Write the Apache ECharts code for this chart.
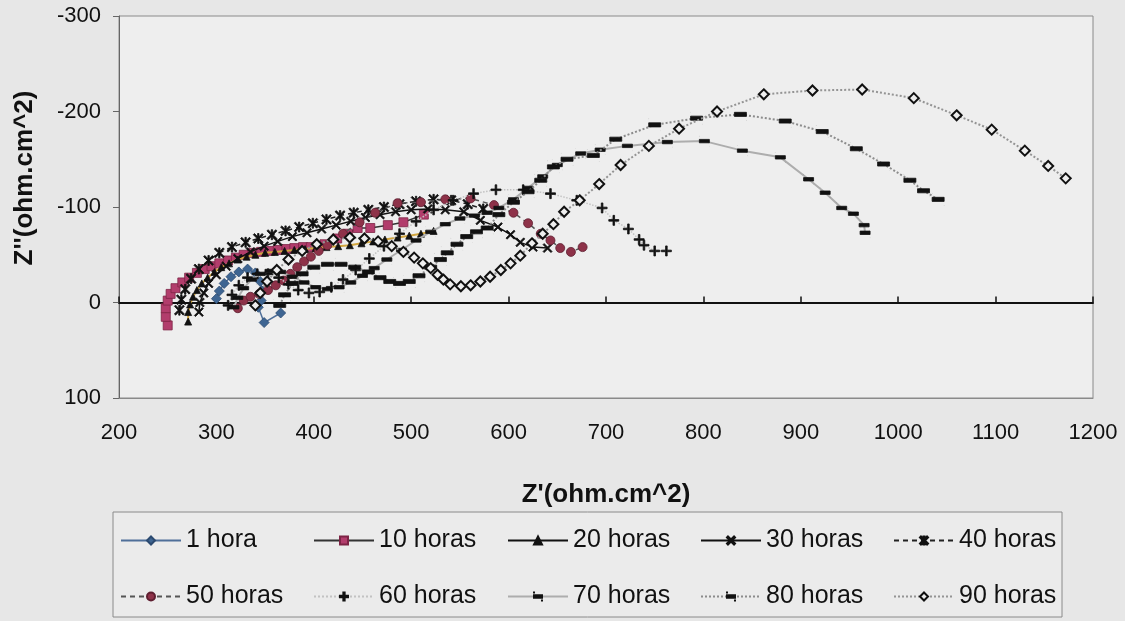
<!DOCTYPE html>
<html>
<head>
<meta charset="utf-8">
<script src="https://cdn.jsdelivr.net/npm/echarts/dist/echarts.min.js"></script>
<style>
  html, body { margin: 0; padding: 0; background: #e7e7e7; }
  #chart { width: 1125px; height: 621px; }
</style>
</head>
<body>
<div id="chart"></div>
<script>
// Impedance spectra (Nyquist): Z' vs Z'' in ohm.cm^2, one curve per immersion time
const seriesNames = ['1 hora', '10 horas', '20 horas', '30 horas', '40 horas',
                     '50 horas', '60 horas', '70 horas', '80 horas', '90 horas'];

const xRange = [200, 1200];
const yRange = [-300, 100];
const tickStep = 100;

const h1 = [[300,-4],[303,-12],[308,-20],[315,-27],[323,-32],[332,-35],[340,-31],[345,-22],[347,-12],[346,-2],[343,5],[349,21],[366,11]];

const h10 = [[250,24],[248,15],[248,6],[250,-2],[253,-9],[258,-15],[265,-21],[272,-26],[280,-31],[288,-35],[295,-38],[303,-41],[312,-44],[320,-47],[328,-50],[337,-52],[346,-53],[355,-54],[363,-55],[372,-56],[380,-57],[389,-58],[397,-58],[404,-59],[411,-61],[424,-67],[435,-72],[445,-78],[458,-78],[476,-81],[492,-84],[513,-92]];

const h20 = [[271,20],[271,10],[273,2],[276,-6],[280,-13],[285,-20],[291,-26],[298,-32],[305,-37],[313,-41],[322,-45],[331,-48],[340,-50],[350,-52],[360,-53],[370,-54],[380,-55],[391,-56],[402,-57],[413,-58],[425,-59],[437,-60],[449,-62],[461,-64],[473,-66],[486,-68],[498,-70],[510,-72],[523,-75]];

const h30 = [[282,10],[283,0],[287,-10],[292,-20],[300,-29],[310,-38],[322,-46],[335,-53],[349,-59],[363,-64],[378,-69],[393,-73],[408,-77],[423,-81],[438,-85],[453,-89],[468,-92],[484,-95],[500,-97],[517,-98],[535,-97],[554,-95],[571,-86],[589,-79],[602,-71],[612,-63],[625,-58],[640,-57]];

const h40 = [[262,8],[264,-3],[268,-14],[274,-25],[282,-35],[292,-44],[303,-52],[316,-58],[330,-63],[343,-67],[357,-71],[371,-75],[385,-79],[399,-83],[413,-87],[427,-91],[441,-94],[456,-97],[472,-100],[488,-103],[505,-106],[523,-108],[541,-107],[558,-103],[574,-98]];

const h50 = [[322,6],[328,-2],[335,-6],[344,-9],[353,-13],[361,-18],[369,-23],[376,-30],[383,-37],[390,-43],[397,-48],[405,-54],[414,-60],[430,-72],[447,-84],[463,-94],[486,-104],[510,-105],[535,-108],[561,-109],[585,-102],[605,-94],[620,-83],[633,-72],[643,-65],[653,-57],[664,-53],[676,-58]];

const h60 = [[312,3],[316,-8],[323,-18],[332,-26],[342,-30],[353,-30],[364,-26],[374,-19],[384,-13],[395,-10],[406,-11],[418,-16],[430,-24],[443,-34],[457,-46],[472,-59],[488,-72],[505,-85],[523,-97],[543,-107],[564,-114],[587,-118],[615,-118],[643,-114],[670,-107],[696,-99],[708,-86],[723,-77],[734,-66],[739,-60],[750,-54],[762,-54]];

const h70 = [[318,5],[322,-5],[328,-15],[336,-24],[345,-30],[355,-33],[366,-32],[378,-27],[390,-21],[402,-16],[414,-14],[426,-16],[438,-21],[450,-28],[462,-36],[475,-45],[490,-55],[505,-65],[520,-74],[535,-82],[550,-88],[565,-91],[578,-94],[590,-99],[605,-108],[620,-120],[635,-132],[650,-144],[674,-156],[694,-160],[722,-164],[763,-168],[801,-169],[840,-159],[879,-152],[908,-129],[925,-115],[942,-99],[954,-93],[965,-81],[966,-73]];

const h80 = [[365,3],[370,-8],[378,-20],[388,-30],[400,-37],[414,-40],[428,-40],[442,-37],[456,-32],[468,-26],[478,-22],[488,-20],[498,-22],[508,-28],[520,-37],[530,-45],[537,-52],[547,-61],[557,-69],[567,-74],[578,-78],[590,-92],[605,-105],[620,-116],[633,-128],[646,-142],[660,-150],[687,-154],[710,-171],[750,-186],[793,-193],[838,-197],[884,-190],[922,-179],[957,-161],[985,-145],[1012,-128],[1026,-117],[1041,-108]];

const h90 = [[340,3],[345,-10],[352,-22],[362,-34],[374,-45],[388,-54],[403,-61],[420,-66],[437,-68],[452,-67],[466,-64],[480,-59],[492,-53],[503,-47],[512,-41],[520,-36],[527,-29],[533,-24],[540,-19],[551,-17],[561,-18],[571,-22],[581,-27],[592,-34],[602,-41],[612,-49],[624,-62],[635,-72],[646,-82],[657,-95],[673,-107],[693,-124],[715,-144],[744,-164],[775,-182],[814,-200],[862,-218],[912,-222],[963,-223],[1016,-214],[1060,-196],[1096,-181],[1130,-159],[1154,-143],[1172,-130]];

const seriesData = [h1, h10, h20, h30, h40, h50, h60, h70, h80, h90];

// marker shapes (drawn inside a 10x10 box)
const X_MARK = 'path://M0,1.2L1.2,0L5,3.8L8.8,0L10,1.2L6.2,5L10,8.8L8.8,10L5,6.2L1.2,10L0,8.8L3.8,5Z';
const STAR_MARK = X_MARK + 'M4.3,0H5.7V10H4.3Z';
const PLUS_MARK = 'path://M4.2,0H5.8V4.2H10V5.8H5.8V10H4.2V5.8H0V4.2H4.2Z';
// short horizontal bar; two hair-thin corners keep the box square so it is not stretched
const DASH_MARK = 'path://M0,3.3H10V6.7H0Z M0,0H0.02V0.02H0Z M9.98,9.98H10V10H9.98Z';

const styles = [
  { symbol: 'diamond', size: 10, color: '#3e6592', border: '#2c4a70', line: '#4f6f99', width: 1.5, type: 'solid' },
  { symbol: 'rect', size: 9, color: '#b23d6c', border: '#7d2445', line: '#333', width: 1.5, type: 'solid' },
  { symbol: 'triangle', size: 7, color: '#111', border: '#111', line: '#d2a640', width: 2, type: 'solid', legendLine: '#111' },
  { symbol: X_MARK, size: 9, color: '#111', border: '#111', line: '#111', width: 1.5, type: 'solid' },
  { symbol: STAR_MARK, size: 10, color: '#111', border: '#111', line: '#222', width: 1.5, type: [5, 4] },
  { symbol: 'circle', size: 9, color: '#8e3249', border: '#5e1e30', line: '#555', width: 1.5, type: [5, 4] },
  { symbol: PLUS_MARK, size: 10, color: '#111', border: '#111', line: '#c2c2c2', width: 1.5, type: 'dotted' },
  { symbol: DASH_MARK, size: 10, color: '#111', border: '#111', line: '#adadad', width: 2, type: 'solid' },
  { symbol: DASH_MARK, size: 12, color: '#111', border: '#111', line: '#8c8c8c', width: 2, type: 'dotted' },
  { symbol: 'diamond', size: 10, color: '#eeeeee', border: '#111', line: '#949494', width: 2, type: 'dotted', borderWidth: 2 }
];

const series = seriesNames.map((name, i) => {
  const s = styles[i];
  return {
    name: name,
    type: 'line',
    xAxisIndex: 0,
    yAxisIndex: 0,
    data: seriesData[i],
    symbol: s.symbol,
    symbolSize: s.size,
    showSymbol: true,
    smooth: false,
    lineStyle: { color: s.line, width: s.width, type: s.type },
    itemStyle: { color: s.color, borderColor: s.border, borderWidth: s.borderWidth || 0.8, opacity: 1 },
    emphasis: { disabled: true },
    z: 2 + i * 0.01
  };
});

const FONT = '"Liberation Sans", Arial, sans-serif';

// five legend columns, two rows each
const legendCols = [115, 308, 502, 695, 888];
const legends = legendCols.map((left, c) => ({
  orient: 'vertical',
  left: left,
  top: 523,
  itemWidth: 60,
  itemHeight: 10,
  itemGap: 31,
  selectedMode: false,
  textStyle: { fontFamily: FONT, fontSize: 25, color: '#111', lineHeight: 24 },
  data: [seriesNames[c], seriesNames[c + 5]].map((n) => {
    const idx = seriesNames.indexOf(n);
    const st = styles[idx];
    const item = { name: n };
    if (st.legendLine) item.lineStyle = { color: st.legendLine };
    return item;
  })
}));

const plainNumber = (v) => String(v);

const chart = echarts.init(document.getElementById('chart'), null, { renderer: 'canvas' });
chart.setOption({
  animation: false,
  backgroundColor: '#e7e7e7',
  grid: {
    left: 119, right: 32, top: 16, bottom: 223,
    show: true, backgroundColor: '#eeeeee', borderColor: '#8a8a8a', borderWidth: 1,
    containLabel: false, outerBoundsMode: 'none'
  },
  legend: legends,
  graphic: [{
    type: 'rect',
    shape: { x: 113, y: 512, width: 949, height: 105 },
    style: { fill: '#ebebeb', stroke: '#8a8a8a', lineWidth: 1 },
    z: -1, silent: true
  }, {
    type: 'text',
    x: 25, y: 178,
    rotation: Math.PI / 2,
    silent: true,
    style: {
      text: "Z''(ohm.cm^2)",
      fontFamily: FONT, fontSize: 26, fontWeight: 'bold', fill: '#111',
      align: 'center', verticalAlign: 'middle'
    }
  }],
  xAxis: [{
    type: 'value',
    min: xRange[0], max: xRange[1], interval: tickStep,
    position: 'bottom',
    axisLine: { show: true, onZero: false, lineStyle: { color: '#8a8a8a', width: 1 } },
    axisTick: { show: false },
    splitLine: { show: false },
    axisLabel: { fontFamily: FONT, fontSize: 22, color: '#111', margin: 24, formatter: plainNumber, showMinLabel: true, showMaxLabel: true },
    name: "Z'(ohm.cm^2)",
    nameLocation: 'middle',
    nameGap: 84,
    nameTextStyle: { fontFamily: FONT, fontSize: 26, fontWeight: 'bold', color: '#111' }
  }, {
    type: 'value',
    min: xRange[0], max: xRange[1], interval: tickStep,
    position: 'top',
    axisLine: { show: true, onZero: true, lineStyle: { color: '#111', width: 2 } },
    axisTick: { show: true, inside: false, length: 6, lineStyle: { color: '#111', width: 1.5 } },
    axisLabel: { show: false },
    splitLine: { show: false }
  }],
  yAxis: {
    type: 'value',
    inverse: true,
    min: yRange[0], max: yRange[1], interval: tickStep,
    axisLine: { show: true, onZero: false, lineStyle: { color: '#666', width: 1 } },
    axisTick: { show: true, inside: false, length: 6, lineStyle: { color: '#666' } },
    splitLine: { show: false },
    axisLabel: { fontFamily: FONT, fontSize: 22, color: '#111', margin: 18, formatter: plainNumber, showMinLabel: true, showMaxLabel: true }
  },
  series: series
});
</script>
</body>
</html>
